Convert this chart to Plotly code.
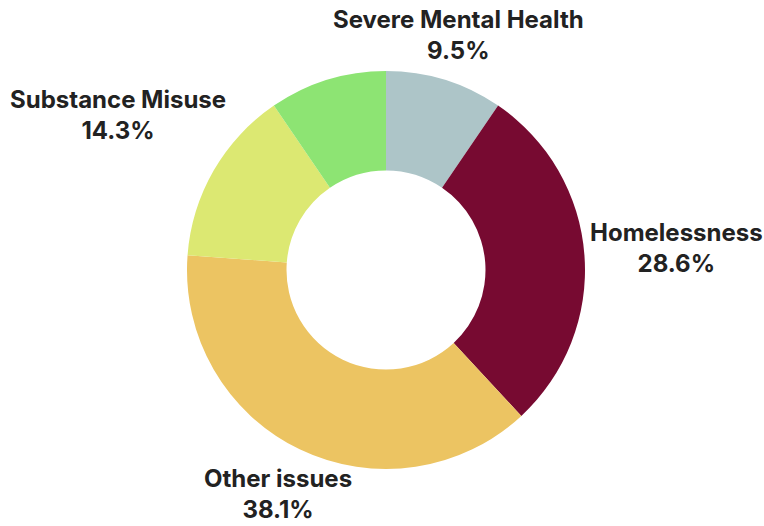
import math
import plotly.graph_objects as go

# Category counts, clockwise from 12 o'clock
categories = ["Severe Mental Health", "Homelessness", "Other issues", "Substance Misuse", ""]
counts = [2, 6, 8, 3, 2]
colors = ["#adc5c8", "#770a31", "#ecc462", "#dce872", "#8de473"]

W, H = 764, 526
CX, CY, R = 386, 270, 199          # ring centre and outer radius in px
label_dist = [246, 291, 249, 310, 0]  # radial distance of each label centre

fig = go.Figure(go.Pie(
    labels=categories,
    values=counts,
    marker=dict(colors=colors, line=dict(width=0)),
    hole=0.5,
    sort=False,
    direction="clockwise",
    rotation=0,
    textinfo="none",
    hoverinfo="skip",
    showlegend=False,
    domain=dict(x=[(CX - R) / W, (CX + R) / W], y=[(H - CY - R) / H, (H - CY + R) / H]),
))

total = sum(counts)
start = 0.0
for name, v, d in zip(categories, counts, label_dist):
    frac = v / total
    mid = (start + frac / 2) * 2 * math.pi
    start += frac
    if not name:
        continue
    px = CX + d * math.sin(mid)
    py = CY - d * math.cos(mid)
    fig.add_annotation(
        x=px / W, y=1 - py / H, xref="paper", yref="paper",
        text=f"<b>{name}<br>{frac * 100:.1f}%</b>",
        showarrow=False, xanchor="center", yanchor="middle",
        font=dict(family="Inter", size=24, color="#222222"),
    )

fig.update_layout(
    width=W, height=H,
    margin=dict(l=0, r=0, t=0, b=0),
    paper_bgcolor="white", plot_bgcolor="white",
)
fig.write_html("out.html")
